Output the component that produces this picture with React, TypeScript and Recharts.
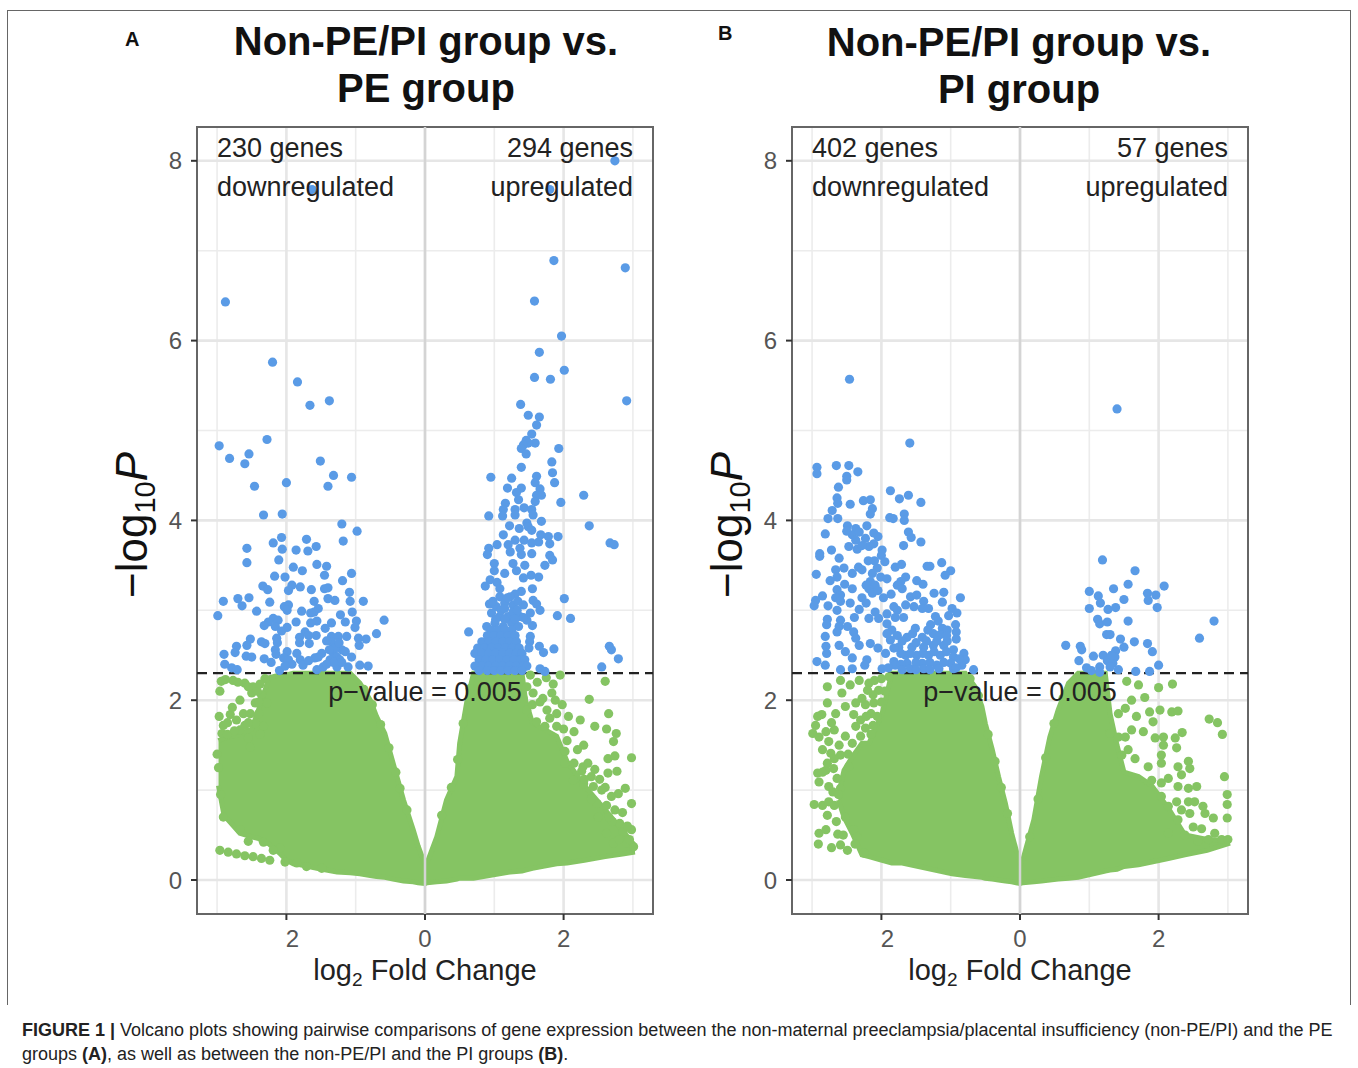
import React from 'react'
import { ComposedChart, Area, Scatter, XAxis, YAxis, CartesianGrid, ReferenceLine, ReferenceArea } from 'recharts'

const FONT = '"Liberation Sans", Arial, sans-serif'
const BLUE = '#5a9be6'
const GREEN = '#85c463'

const xTicks = [-2, 0, 2]
const yTicks = [0, 2, 4, 6, 8]
const xMinor = [-3, -1, 1, 3]
const yMinor = [1, 3, 5, 7]
const pCut = 2.301

type P = number[]

// panel A, significant genes
const aDown: P[] = [
  [-1.63,7.68],[-2.88,6.43],[-2.20,5.76],[-1.84,5.54],[-1.66,5.28],[-1.38,5.33],
  [-2.97,4.83],[-2.82,4.69],[-2.60,4.63],[-2.54,4.74],[-2.28,4.90],[-2.46,4.38],[-2.00,4.42],[-1.51,4.66],[-1.32,4.50],[-1.06,4.48],[-1.40,4.38],
  [-2.33,4.06],[-2.06,4.07],[-1.20,3.96],[-0.98,3.88],[-1.18,3.77],[-2.07,3.81],[-2.19,3.75],[-1.71,3.79],[-1.57,3.71],[-1.69,3.66],[-2.06,3.68],[-1.86,3.67],[-2.57,3.69],[-2.57,3.53],[-2.11,3.56],
  [-1.56,3.51],[-1.42,3.49],[-1.90,3.48],[-1.77,3.44],[-1.45,3.39],[-1.06,3.41],[-2.17,3.38],[-2.02,3.37],[-1.19,3.33],[-2.34,3.27],[-2.27,3.23],[-1.92,3.28],[-1.97,3.22],[-1.80,3.26],[-1.64,3.23],[-1.45,3.24],[-1.40,3.25],[-1.09,3.20],
  [-1.40,3.13],[-1.30,3.11],[-1.60,3.10],[-1.08,3.10],[-0.89,3.10],[-2.91,3.10],[-2.70,3.13],[-2.54,3.14],[-2.64,3.05],[-2.24,3.09],[-2.03,3.04],[-1.97,3.06],[-1.99,3.00],[-2.43,2.99],[-1.78,2.99],[-1.54,3.02],[-1.60,2.98],[-1.65,2.97],[-1.05,2.98],[-1.22,2.95],[-2.99,2.94],
  [-0.59,2.89],[-1.15,2.87],[-0.99,2.88],[-1.01,2.81],[-1.86,2.87],[-1.56,2.88],[-1.65,2.86],[-1.35,2.86],[-1.44,2.80],[-2.19,2.91],[-2.12,2.89],[-2.26,2.87],[-2.32,2.83],[-2.16,2.82],[-1.99,2.81],[-2.07,2.77],[-0.70,2.74],
  [-1.73,2.76],[-1.57,2.72],[-1.81,2.70],[-1.68,2.72],[-0.85,2.68],[-0.96,2.69],[-1.35,2.71],[-1.25,2.71],[-1.13,2.71],[-2.52,2.68],[-2.36,2.65],[-2.31,2.63],[-2.14,2.69],[-2.13,2.64],[-1.81,2.64],[-1.67,2.63],[-0.95,2.61],[-1.27,2.61],[-1.35,2.65],[-1.20,2.56],[-2.57,2.61],[-2.72,2.60],[-2.74,2.53],
  [-2.90,2.51],[-2.58,2.49],[-2.50,2.48],[-2.32,2.46],[-2.16,2.56],[-2.15,2.51],[-1.99,2.54],[-2.04,2.47],[-1.97,2.45],[-1.85,2.52],[-1.80,2.45],[-1.76,2.39],[-1.59,2.47],[-1.49,2.52],[-1.54,2.48],[-1.32,2.52],[-1.27,2.48],[-1.37,2.45],[-1.23,2.45],[-1.15,2.54],[-1.06,2.48],
  [-2.89,2.40],[-2.79,2.36],[-2.71,2.34],[-2.10,2.33],[-1.56,2.34],[-1.47,2.37],[-1.27,2.37],[-1.11,2.37],[-0.94,2.39],[-0.82,2.38],
  [-1.30,2.58],[-1.24,2.64],[-1.38,2.56],[-1.42,2.66],[-1.20,2.42],[-1.32,2.42],[-1.42,2.40],[-1.92,2.40],[-2.02,2.38],[-1.68,2.44],[-2.22,2.42],
]

const aUp: P[] = [
  [2.74,8.00],[1.80,7.68],[1.86,6.89],[2.89,6.81],[1.58,6.44],[1.97,6.05],[1.65,5.87],[2.01,5.67],[1.58,5.59],[1.81,5.57],[2.91,5.33],[1.38,5.29],[1.49,5.17],[1.65,5.15],
  [1.61,5.06],[1.54,4.96],[1.59,4.86],[1.46,4.89],[1.49,4.86],[1.42,4.84],[1.39,4.80],[1.46,4.74],[1.93,4.80],[1.83,4.65],[1.39,4.59],[1.84,4.53],[1.61,4.49],[0.95,4.48],[1.25,4.47],[1.59,4.42],[1.87,4.42],[1.19,4.36],[1.39,4.36],[1.32,4.31],[1.66,4.35],[1.61,4.28],[1.68,4.28],[2.29,4.28],[1.35,4.23],[1.59,4.21],[1.96,4.20],[1.16,4.19],[1.13,4.12],[1.43,4.14],[1.30,4.12],[1.30,4.06],[1.54,4.12],[1.56,4.06],[0.92,4.05],[1.12,4.05],
  [1.68,3.99],[2.37,3.94],[1.47,3.97],[1.22,3.94],[1.36,3.91],[1.49,3.93],[1.54,3.89],[1.13,3.84],[1.92,3.82],[1.78,3.82],[1.67,3.84],[2.67,3.75],[2.73,3.73],[1.30,3.78],[1.43,3.78],[1.64,3.76],[1.54,3.75],[1.80,3.74],[1.04,3.73],[1.20,3.73],[0.92,3.69],[1.37,3.69],[1.23,3.65],[1.54,3.63],[1.39,3.62],[0.90,3.62],[1.80,3.61],[1.84,3.56],
  [1.73,3.50],[1.44,3.50],[1.00,3.52],[1.27,3.52],[1.00,3.44],[1.32,3.44],[1.15,3.41],[1.53,3.39],[1.64,3.37],[1.42,3.36],[0.94,3.34],[1.04,3.31],[0.87,3.27],[1.08,3.24],[1.55,3.24],[1.39,3.21],[1.30,3.18],[1.08,3.15],[1.23,3.15],[2.01,3.13],[1.56,3.11],[1.61,3.07],[1.66,3.00],[1.42,3.06],[0.93,3.07],[1.03,3.04],[1.15,3.08],[1.27,3.06],[1.91,2.94],[2.10,2.91],[1.52,2.97],[1.37,2.93],[1.47,2.89],[0.96,2.97],[1.08,2.93],[1.20,2.93],[1.27,2.98],
  [1.55,2.83],[0.63,2.76],[0.89,2.82],[1.01,2.86],[1.13,2.82],[1.25,2.86],[1.35,2.82],[1.52,2.71],[1.51,2.65],[1.50,2.58],[1.65,2.60],[1.71,2.53],[1.86,2.57],[2.66,2.60],[2.69,2.56],[2.79,2.46],[1.66,2.35],[1.73,2.32],[2.55,2.37],
  [1.10,3.00],[1.15,3.02],[1.33,3.00],[0.98,3.10],[1.19,3.14],[1.34,3.10],[1.02,2.90],[1.15,2.90],[1.30,2.90],[1.42,2.92],
  [0.95,2.78],[1.05,2.78],[1.15,2.78],[1.25,2.78],[0.90,2.72],[1.00,2.72],[1.10,2.72],[1.20,2.72],[1.30,2.72],
  [0.82,2.65],[0.92,2.65],[1.02,2.65],[1.12,2.65],[1.22,2.65],[1.32,2.65],[0.76,2.58],[0.86,2.58],[0.96,2.58],[1.06,2.58],[1.16,2.58],[1.26,2.58],[1.36,2.58],
  [0.72,2.52],[0.82,2.52],[0.92,2.52],[1.02,2.52],[1.12,2.52],[1.22,2.52],[1.32,2.52],[1.40,2.52],[0.78,2.45],[0.88,2.45],[0.98,2.45],[1.08,2.45],[1.18,2.45],[1.28,2.45],[1.38,2.45],[1.44,2.45],
  [0.72,2.38],[0.82,2.38],[0.92,2.38],[1.02,2.38],[1.12,2.38],[1.22,2.38],[1.32,2.38],[1.42,2.38],[1.47,2.38],[0.78,2.33],[0.90,2.33],[1.00,2.33],[1.10,2.33],[1.20,2.33],[1.30,2.33],[1.40,2.33],
]

// panel A, the rest: [x, low, high] outline of the solid mass, then loose points
const aLeftBand: P[] = [
  [-2.98,1.05,1.55],[-2.90,0.72,1.58],[-2.67,0.52,1.62],[-2.50,0.48,1.68],[-2.40,0.46,1.90],[-2.25,0.40,2.25],[-2.10,0.30,2.28],[-2.00,0.22,2.28],[-1.90,0.18,2.30],[-1.80,0.17,2.30],[-1.56,0.13,2.30],[-1.27,0.09,2.30],[-1.08,0.08,2.30],[-0.94,0.07,2.19],[-0.79,0.05,2.00],[-0.70,0.04,1.82],[-0.58,0.03,1.63],[-0.46,0.01,1.30],[-0.31,-0.01,0.89],[-0.17,-0.02,0.56],[-0.10,-0.03,0.38],[0,-0.04,0.17],
]
const aLeftLoose: P[] = [
  [-2.94,2.21],[-2.96,2.10],[-2.77,2.22],[-2.60,2.19],[-2.50,2.08],[-2.67,2.00],[-2.81,1.84],[-2.97,1.82],[-2.91,1.72],[-2.93,1.63],[-2.62,1.85],[-2.55,1.58],[-2.67,1.67],[-2.40,1.85],[-2.48,2.15],[-2.31,2.24],[-2.28,1.97],[-2.36,2.06],[-2.45,1.97],[-2.33,1.71],[-2.52,1.48],
  [-2.88,2.23],[-2.70,2.20],[-2.55,2.15],[-2.42,2.10],[-2.72,1.78],[-2.60,1.72],[-2.85,1.62],[-2.75,1.66],[-2.45,1.74],[-2.38,1.62],[-2.55,1.75],[-2.85,1.75],[-2.78,1.92],[-2.52,1.85],[-2.38,2.18],[-2.40,1.98],
  [-2.96,0.33],[-2.84,0.31],[-2.72,0.29],[-2.60,0.27],[-2.48,0.26],[-2.36,0.24],[-2.24,0.22],[-2.55,0.43],[-2.33,0.42],[-2.09,0.36],[-2.02,0.20],[-2.19,0.33],[-1.85,0.19],[-1.71,0.15],[-1.49,0.13],[-2.67,0.56],[-2.91,0.70],[-2.98,1.25],[-3.00,1.40],[-2.95,0.95],
  [-0.36,1.02],[-0.42,1.20],[-0.52,1.47],[-0.64,1.73],[-0.26,0.78],[-0.76,1.95],[-0.88,2.12],
]
const aRightBand: P[] = [
  [0,-0.04,0.15],[0.03,-0.03,0.19],[0.17,-0.02,0.48],[0.31,-0.01,0.89],[0.46,0.01,1.15],[0.50,0.02,1.52],[0.60,0.02,1.97],[0.70,0.02,2.30],[1.23,0.09,2.30],[1.40,0.10,2.30],[1.45,0.11,2.00],[1.55,0.13,1.75],[1.90,0.18,1.60],[2.05,0.19,1.32],[2.30,0.22,1.05],[2.60,0.26,0.78],[2.85,0.29,0.55],[3.03,0.31,0.38],
]
const aRightLoose: P[] = [
  [2.60,2.21],[2.37,2.01],[2.65,1.85],[2.45,1.71],[2.62,1.68],[2.76,1.63],[2.72,1.54],[2.29,1.50],[2.98,1.36],[2.64,1.35],[2.74,1.38],[2.28,1.26],[2.45,1.23],[2.64,1.19],[2.77,1.21],[2.52,1.12],[2.60,1.03],[2.89,1.02],[2.79,0.96],[2.98,0.85],[2.69,0.93],[2.62,0.83],[2.74,0.78],[2.81,0.63],[2.98,0.56],[2.86,0.54],[2.91,0.41],[3.01,0.37],[2.72,0.41],[2.62,0.52],
  [1.52,2.28],[1.47,2.15],[1.95,2.28],[1.83,2.08],[1.88,2.00],[1.66,1.98],[1.76,1.89],[1.90,1.85],[2.07,1.82],[2.24,1.78],[1.90,1.71],[1.61,1.76],[1.73,1.71],[1.47,1.89],[1.42,2.02],[1.56,2.08],[2.02,1.43],[2.02,1.30],[2.26,1.21],[2.14,1.11],[2.43,1.04],[2.29,1.07],
  [1.62,2.20],[1.75,2.25],[1.85,2.18],[1.55,1.95],[1.70,2.02],[1.98,1.95],[2.00,1.68],[1.80,1.80],[2.15,1.65],[2.05,1.55],[2.20,1.45],[2.15,1.30],[2.35,1.30],[2.40,1.15],[2.55,1.00],[2.48,0.85],[2.85,0.75],[2.70,0.65],[2.95,0.45],[2.80,0.45],[2.65,0.70],[2.50,0.70],[2.40,0.90],[2.30,1.12],[2.92,0.60],
  [0.24,0.72],[0.38,1.03],[0.47,1.34],[0.55,1.74],[0.65,2.13],
]

// panel B, significant genes
const bDown: P[] = [
  [-2.46,5.57],[-1.59,4.86],[-2.93,4.59],[-2.93,4.52],[-2.65,4.61],[-2.47,4.61],[-2.34,4.54],[-2.50,4.49],[-2.50,4.45],[-2.62,4.37],[-1.87,4.33],[-1.74,4.24],[-1.61,4.28],[-1.43,4.20],[-2.64,4.25],[-2.63,4.19],[-2.45,4.18],[-2.26,4.22],[-2.16,4.23],[-2.13,4.13],[-2.16,4.07],[-2.71,4.11],[-2.77,4.02],[-2.63,4.02],[-1.88,4.03],[-1.83,4.02],[-1.67,4.07],[-1.67,4.00],
  [-1.61,3.87],[-1.57,3.81],[-1.43,3.76],[-1.68,3.72],[-2.49,3.94],[-2.37,3.91],[-2.21,3.94],[-2.42,3.84],[-2.81,3.85],[-2.11,3.86],[-2.05,3.82],[-2.23,3.80],[-2.37,3.78],[-2.47,3.71],[-2.35,3.68],[-2.18,3.71],[-2.11,3.74],[-2.72,3.67],[-2.89,3.63],[-2.89,3.60],[-1.99,3.67],[-2.00,3.61],[-2.61,3.58],[-2.19,3.55],[-1.95,3.54],
  [-1.13,3.53],[-1.34,3.49],[-1.30,3.49],[-1.71,3.51],[-1.80,3.48],[-1.00,3.44],[-1.08,3.39],[-2.66,3.45],[-2.54,3.47],[-2.33,3.48],[-2.28,3.45],[-2.42,3.41],[-2.94,3.40],[-2.06,3.47],[-2.13,3.41],[-2.01,3.37],[-1.92,3.35],[-2.64,3.37],[-2.74,3.33],[-2.53,3.29],[-1.65,3.37],[-1.72,3.32],[-1.77,3.28],[-1.70,3.24],[-1.49,3.33],[-1.40,3.29],[-2.16,3.32],[-2.09,3.28],[-2.18,3.24],[-2.13,3.19],[-2.42,3.24],[-2.64,3.23],[-2.59,3.17],[-1.24,3.19],[-1.10,3.20],
  [-1.12,3.09],[-0.86,3.14],[-2.85,3.16],[-2.95,3.11],[-2.97,3.05],[-2.77,3.05],[-2.66,3.14],[-2.59,3.10],[-2.45,3.08],[-2.28,3.14],[-2.22,3.08],[-1.97,3.14],[-1.86,3.18],[-1.58,3.15],[-1.49,3.17],[-1.39,3.10],[-1.65,3.06],[-1.53,3.04],[-1.41,3.02],[-1.32,3.02],[-2.32,3.01],[-2.64,3.00],[-1.82,3.04],[-1.77,3.00],
  [-2.09,2.98],[-1.92,2.96],[-2.18,2.91],[-2.04,2.91],[-1.68,2.92],[-0.98,3.02],[-0.91,2.97],[-1.03,2.94],[-1.22,2.93],[-2.39,2.92],[-2.78,2.90],[-2.79,2.84],[-2.59,2.89],[-2.61,2.82],[-2.64,2.76],[-2.49,2.82],[-2.40,2.76],[-2.81,2.71],[-1.92,2.85],[-1.85,2.78],[-1.77,2.72],[-1.87,2.67],[-1.51,2.80],[-1.29,2.84],[-1.12,2.80],[-1.05,2.78],[-0.93,2.84],[-0.92,2.76],[-0.92,2.68],
  [-1.63,2.70],[-1.41,2.70],[-1.25,2.74],[-1.15,2.73],[-2.32,2.61],[-2.16,2.63],[-2.37,2.69],[-2.61,2.61],[-2.80,2.60],[-2.79,2.52],[-2.52,2.54],[-2.42,2.47],[-2.05,2.58],[-1.94,2.52],[-1.75,2.59],[-1.56,2.59],[-1.39,2.59],[-1.25,2.61],[-1.10,2.61],[-0.96,2.56],[-0.81,2.52],[-1.65,2.50],[-1.49,2.50],[-1.32,2.50],[-1.15,2.50],[-0.96,2.48],[-0.79,2.45],
  [-2.21,2.45],[-2.24,2.39],[-1.82,2.43],[-1.63,2.41],[-1.41,2.41],[-1.20,2.39],[-1.00,2.41],[-0.84,2.39],[-2.93,2.43],[-2.81,2.39],[-2.59,2.34],[-2.42,2.35],[-1.99,2.35],[-1.80,2.39],[-1.58,2.35],[-1.39,2.35],[-0.67,2.34],[-1.17,2.35],[-0.96,2.35],
  [-1.50,2.64],[-1.35,2.66],[-1.20,2.66],[-1.05,2.66],[-1.72,2.52],[-1.58,2.52],[-1.40,2.52],[-1.24,2.54],[-1.06,2.54],[-0.88,2.46],[-1.72,2.40],[-1.50,2.42],[-1.30,2.42],[-1.10,2.42],[-0.92,2.36],[-1.30,2.34],[-1.50,2.34],[-1.70,2.34],[-1.90,2.36],
  [-2.50,3.88],[-2.32,3.87],[-2.28,3.72],[-2.10,3.55],[-2.22,3.28],[-2.05,3.22],[-1.80,2.92],[-1.55,2.74],[-1.33,2.78],[-1.06,2.72],[-1.18,2.88],[-1.92,2.74],[-1.70,2.66],[-1.82,2.58],
]
const bUp: P[] = [
  [1.40,5.24],[1.19,3.56],[1.66,3.44],[1.56,3.29],[2.08,3.27],[1.35,3.24],[1.00,3.21],[1.84,3.19],[1.96,3.17],[1.85,3.11],[1.13,3.16],[1.16,3.08],[1.50,3.12],[1.00,3.02],[1.27,3.01],[1.38,3.03],[1.98,3.03],[1.12,2.90],[1.15,2.85],[1.26,2.87],[1.56,2.88],[2.80,2.88],[1.25,2.73],[1.30,2.73],[2.59,2.69],[1.45,2.68],[1.65,2.65],[0.66,2.61],[0.87,2.60],[0.89,2.56],[1.84,2.63],[1.91,2.54],[1.50,2.59],[1.38,2.55],[1.20,2.50],[1.06,2.49],[1.37,2.48],[1.26,2.44],[1.34,2.41],[0.85,2.44],[1.15,2.37],[0.96,2.36],[1.03,2.33],[1.42,2.34],[1.30,2.37],[2.00,2.39],[1.67,2.32],[1.87,2.32],[1.15,2.31],[1.32,2.50],
]

// panel B, the rest
const bLeftBand: P[] = [
  [-2.62,0.89,0.95],[-2.54,0.70,1.22],[-2.42,0.52,1.37],[-2.28,0.28,1.52],[-2.18,0.26,1.52],[-1.99,0.22,1.85],[-1.85,0.19,2.30],[-1.70,0.19,2.30],[-0.98,0.07,2.30],[-0.79,0.05,2.30],[-0.65,0.04,2.15],[-0.55,0.03,1.93],[-0.50,0.02,1.74],[-0.40,0.01,1.45],[-0.31,0,1.15],[-0.21,-0.01,0.85],[-0.12,-0.02,0.52],[0,-0.04,0.17],
]
const bLeftLoose: P[] = [
  [-2.78,1.97],[-2.92,1.82],[-2.86,1.84],[-2.95,1.72],[-2.99,1.63],[-2.90,1.59],[-2.68,1.67],[-2.76,1.54],[-2.85,1.45],[-2.73,1.41],[-2.59,1.39],[-2.61,1.50],[-2.42,1.52],[-2.66,1.85],[-2.52,1.93],[-2.37,1.97],[-2.23,1.95],[-2.11,1.97],[-2.30,1.78],[-2.37,1.71],[-2.23,1.69],[-2.78,2.15],[-2.59,2.22],[-2.45,2.17],[-2.32,2.22],[-2.18,2.19],[-2.57,2.08],[-2.20,2.11],[-1.89,2.26],[-2.04,2.11],[-2.06,1.82],
  [-2.47,1.26],[-2.92,1.19],[-2.80,1.22],[-2.69,1.24],[-2.90,1.09],[-2.76,1.04],[-2.64,1.13],[-2.59,1.02],[-2.97,0.84],[-2.85,0.83],[-2.76,0.87],[-2.68,0.83],[-2.52,0.70],[-2.90,0.52],[-2.80,0.56],[-2.91,0.40],[-2.72,0.36],[-2.63,0.51],[-2.59,0.39],[-2.49,0.33],[-2.40,0.56],[-2.25,0.30],[-2.35,0.48],
  [-2.72,1.75],[-2.80,1.65],[-2.52,1.60],[-2.48,1.40],[-2.30,1.60],[-2.12,1.72],[-2.15,1.85],[-2.00,1.98],[-1.95,2.10],[-2.10,2.22],[-2.68,1.35],[-2.78,1.30],[-2.85,1.20],[-2.70,0.98],[-2.62,0.95],[-2.78,0.72],[-2.65,0.65],[-2.55,0.50],[-2.38,0.40],
  [-2.12,2.06],[-2.28,2.02],[-2.00,2.24],[-2.22,1.82],[-2.40,1.84],[-2.15,1.62],
  [-0.18,0.74],[-0.27,1.03],[-0.36,1.32],[-0.46,1.62],[-0.60,2.05],[-0.72,2.24],
]
const bRightBand: P[] = [
  [0,-0.04,0.17],[0.04,-0.03,0.22],[0.20,-0.02,0.67],[0.31,-0.01,1.15],[0.43,0,1.59],[0.55,0.01,1.89],[0.70,0.02,2.19],[0.84,0.03,2.30],[1.23,0.10,2.30],[1.30,0.11,1.85],[1.40,0.12,1.50],[1.50,0.15,1.20],[1.71,0.17,1.15],[1.90,0.20,1.05],[2.14,0.24,0.80],[2.38,0.28,0.50],[2.70,0.33,0.45],[3.03,0.41,0.44],
]
const bRightLoose: P[] = [
  [1.54,2.21],[1.71,2.17],[2.00,2.14],[2.20,2.18],[1.80,2.03],[1.61,2.00],[1.52,1.91],[1.42,1.85],[1.68,1.82],[1.87,1.87],[2.02,1.89],[2.19,1.87],[2.28,1.88],[2.73,1.79],[2.85,1.75],[2.92,1.62],[2.34,1.64],[1.92,1.76],[1.78,1.65],[1.61,1.67],[1.95,1.58],[2.07,1.59],[2.24,1.58],[2.26,1.47],[2.07,1.50],[2.04,1.39],[2.04,1.30],[1.47,1.39],[1.56,1.45],[1.42,1.59],[1.30,1.63],[1.52,1.59],[1.66,1.35],[1.85,1.26],[2.28,1.26],[2.43,1.32],[2.45,1.24],[2.33,1.17],[2.95,1.15],[2.14,1.13],[2.55,1.04],[2.43,1.02],[2.28,1.04],[2.04,1.08],[1.90,1.11],
  [2.99,0.95],[2.99,0.84],[2.99,0.69],[2.26,0.87],[2.43,0.87],[2.52,0.87],[2.64,0.82],[2.79,0.69],[2.67,0.74],[2.04,0.93],[2.14,0.82],[2.33,0.78],[2.45,0.74],[2.28,0.67],[2.62,0.57],[2.50,0.59],[2.81,0.52],[2.91,0.45],[3.00,0.45],[2.14,0.52],[2.38,0.50],[2.72,0.45],[2.57,0.43],
  [0.14,0.48],[0.26,0.90],[0.37,1.36],[0.49,1.74],[0.62,2.02],
]

const toPoints = (rows: P[]) => rows.map(([x, y]) => ({ x, y }))
const toBand = (rows: P[]) => rows.map(([x, low, high]) => ({ x, band: [low, high] }))

const dot = (color: string) => (p: any) => <circle cx={p.cx} cy={p.cy} r={4.6} fill={color} />

// the left "2" sits a little right of its mark in the reference
const XTick = (p: any) => (
  <text x={p.x + (p.payload.value < 0 ? 6 : 0)} y={p.y + 8} dy="0.71em" textAnchor="middle" fontSize={24} fill="#555" fontFamily={FONT}>
    {Math.abs(p.payload.value)}
  </text>
)

type PanelProps = {
  left: number
  down: P[]
  up: P[]
  leftBand: P[]
  rightBand: P[]
  leftLoose: P[]
  rightLoose: P[]
  downLabel: string
  upLabel: string
}

const Panel = ({ left, down, up, leftBand, rightBand, leftLoose, rightLoose, downLabel, upLabel }: PanelProps) => (
  <div style={{ position: 'absolute', left, top: 100 }}>
    <ComposedChart width={573} height={894} margin={{ top: 27, right: 20, bottom: 10, left: 0 }}>
      <CartesianGrid stroke="#ececec" strokeWidth={1.6} horizontalValues={yMinor} verticalValues={xMinor} />
      <CartesianGrid stroke="#e6e6e6" strokeWidth={2.6} horizontalValues={yTicks} verticalValues={xTicks} />
      <ReferenceLine x={0} stroke="#d4d4d4" strokeWidth={2.5} />
      <XAxis
        type="number"
        dataKey="x"
        domain={[-3.29, 3.29]}
        ticks={xTicks}
        axisLine={false}
        tickLine={{ stroke: '#333', strokeWidth: 2 }}
        tickSize={6}
        height={70}
        allowDataOverflow
        tick={XTick}
      />
      <YAxis
        type="number"
        domain={[-0.378, 8.376]}
        ticks={yTicks}
        axisLine={false}
        tickLine={{ stroke: '#333', strokeWidth: 2 }}
        tickSize={6}
        tickMargin={9}
        width={97}
        allowDataOverflow
        tick={{ fontSize: 24, fill: '#555', fontFamily: FONT }}
      />
      <Area data={toBand(leftBand)} dataKey="band" type="linear" fill={GREEN} fillOpacity={1} stroke={GREEN} strokeWidth={5} dot={false} activeDot={false} isAnimationActive={false} />
      <Area data={toBand(rightBand)} dataKey="band" type="linear" fill={GREEN} fillOpacity={1} stroke={GREEN} strokeWidth={5} dot={false} activeDot={false} isAnimationActive={false} />
      <Scatter data={toPoints(leftLoose)} dataKey="y" shape={dot(GREEN)} isAnimationActive={false} />
      <Scatter data={toPoints(rightLoose)} dataKey="y" shape={dot(GREEN)} isAnimationActive={false} />
      <Scatter data={toPoints(down)} dataKey="y" shape={dot(BLUE)} isAnimationActive={false} />
      <Scatter data={toPoints(up)} dataKey="y" shape={dot(BLUE)} isAnimationActive={false} />
      <ReferenceLine y={pCut} stroke="#222" strokeWidth={2.4} strokeDasharray="10 6" />
      <ReferenceArea x1={-3.29} x2={3.29} y1={-0.378} y2={8.376} fill="none" stroke="#666" strokeWidth={2} />
    </ComposedChart>
    {/* texts go in a second svg, chart children end up under the series */}
    <svg width={573} height={894} style={{ position: 'absolute', left: 0, top: 0 }}>
      <g fontFamily={FONT} fontSize={27} fill="#222">
        <text x={117} y={57}>{downLabel}</text>
        <text x={117} y={96}>downregulated</text>
        <text x={533} y={57} textAnchor="end">{upLabel}</text>
        <text x={533} y={96} textAnchor="end">upregulated</text>
        <text x={325} y={601} textAnchor="middle">p−value = 0.005</text>
      </g>
      <text x={325} y={880} textAnchor="middle" fontFamily={FONT} fontSize={29} fill="#222">
        log<tspan fontSize={19} dy={6}>2</tspan><tspan dy={-6}> Fold Change</tspan>
      </text>
      <text transform="rotate(-90 47 498)" x={47} y={498} fontFamily={FONT} fontSize={44} fill="#111">
        −log<tspan fontSize={29} dy={8}>10</tspan><tspan dy={-8} fontStyle="italic">P</tspan>
      </text>
    </svg>
  </div>
)

const titleStyle: React.CSSProperties = {
  position: 'absolute',
  width: 500,
  textAlign: 'center',
  fontFamily: FONT,
  fontWeight: 700,
  fontSize: 40,
  lineHeight: '47px',
  color: '#111',
}

const App = () => (
  <div style={{ position: 'absolute', left: 0, top: 0, width: 1358, height: 1068, background: '#fff', overflow: 'hidden' }}>
    <div style={{ position: 'absolute', left: 7, top: 10, width: 1342, height: 994, borderLeft: '1.5px solid #666', borderTop: '1.5px solid #666', borderRight: '1.5px solid #666' }} />
    <div style={{ ...titleStyle, left: 176, top: 18 }}>Non-PE/PI group vs.<br />PE group</div>
    <div style={{ ...titleStyle, left: 769, top: 19 }}>Non-PE/PI group vs.<br />PI group</div>
    <div style={{ position: 'absolute', left: 125, top: 28, fontFamily: FONT, fontWeight: 700, fontSize: 20, color: '#111' }}>A</div>
    <div style={{ position: 'absolute', left: 718, top: 22, fontFamily: FONT, fontWeight: 700, fontSize: 20, color: '#111' }}>B</div>
    <Panel left={100} down={aDown} up={aUp} leftBand={aLeftBand} rightBand={aRightBand} leftLoose={aLeftLoose} rightLoose={aRightLoose} downLabel="230 genes" upLabel="294 genes" />
    <Panel left={695} down={bDown} up={bUp} leftBand={bLeftBand} rightBand={bRightBand} leftLoose={bLeftLoose} rightLoose={bRightLoose} downLabel="402 genes" upLabel="57 genes" />
    <div style={{ position: 'absolute', left: 22, top: 1018, width: 1330, fontFamily: FONT, fontSize: 18, lineHeight: '24px', color: '#222', whiteSpace: 'nowrap' }}>
      <b>FIGURE 1 |</b> Volcano plots showing pairwise comparisons of gene expression between the non-maternal preeclampsia/placental insufficiency (non-PE/PI) and the PE<br />
      groups <b>(A)</b>, as well as between the non-PE/PI and the PI groups <b>(B)</b>.
    </div>
  </div>
)

export default App
